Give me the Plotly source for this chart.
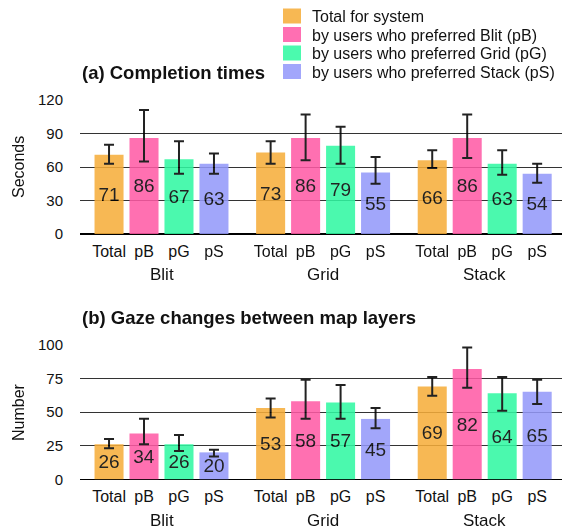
import plotly.graph_objects as go

W, H = 562, 532

groups = ["Blit", "Grid", "Stack"]
subgroups = ["Total", "pB", "pG", "pS"]
series_names = [
    "Total for system",
    "by users who preferred Blit (pB)",
    "by users who preferred Grid (pG)",
    "by users who preferred Stack (pS)",
]
colors = ["#F6AE3A", "#FF5AA6", "#30F9A2", "#9499FA"]

# (a) Completion times (seconds), per series, per group (Blit, Grid, Stack)
times_total = [71, 73, 66]
times_pB = [86, 86, 86]
times_pG = [67, 79, 63]
times_pS = [63, 55, 54]
times_err_plus = [[9, 10, 9], [25, 21, 21], [16, 17, 12], [9, 14, 9]]
times_err_minus = [[8, 10, 7], [21, 20, 18], [13, 16, 10], [9, 10, 8]]

# (b) Gaze changes between map layers (number)
gaze_total = [26, 53, 69]
gaze_pB = [34, 58, 82]
gaze_pG = [26, 57, 64]
gaze_pS = [20, 45, 65]
gaze_err_plus = [[4, 7, 7], [11, 16, 16], [7, 13, 12], [2, 8, 9]]
gaze_err_minus = [[3, 7, 7], [8, 13, 14], [5, 12, 13], [3, 7, 9]]

times = [times_total, times_pB, times_pG, times_pS]
gaze = [gaze_total, gaze_pB, gaze_pG, gaze_pS]

GROUP_STEP = 4.62
xpos = lambda g, s: g * GROUP_STEP + s

FONT = "Liberation Sans"
OPACITY = 0.87

fig = go.Figure()

for panel, (data, eplus, eminus) in enumerate([(times, times_err_plus, times_err_minus),
                                                (gaze, gaze_err_plus, gaze_err_minus)]):
    xa = "x" if panel == 0 else "x2"
    ya = "y" if panel == 0 else "y2"
    for s in range(4):
        fig.add_trace(go.Bar(
            x=[xpos(g, s) for g in range(3)],
            y=data[s],
            name=series_names[s],
            width=0.83,
            marker=dict(color=colors[s], line=dict(width=0)),
            opacity=OPACITY,
            text=[str(v) for v in data[s]],
            textposition="inside",
            insidetextanchor="middle",
            constraintext="none",
            textangle=0,
            textfont=dict(family=FONT, size=19, color="black"),
            error_y=dict(type="data", symmetric=False, array=eplus[s], arrayminus=eminus[s],
                         color="black", thickness=2, width=5),
            showlegend=False,
            xaxis=xa, yaxis=ya,
            hoverinfo="skip",
        ))

tickvals = [xpos(g, s) for g in range(3) for s in range(4)]
ticktext = [subgroups[s] for g in range(3) for s in range(4)]

xdom = [80 / W, 1.0]
ydom_a = [1 - 234 / H, 1 - 100 / H]
ydom_b = [1 - 479.3 / H, 1 - 344.7 / H]
xrange = [-0.83, 12.95]

axis_x = dict(range=xrange, tickvals=tickvals, ticktext=ticktext, showgrid=False,
              zeroline=False, showline=False, ticks="", ticklabelstandoff=6,
              tickfont=dict(family=FONT, size=16, color="#111"), fixedrange=True)
axis_y = dict(showgrid=True, gridcolor="#333", gridwidth=1, zeroline=True,
              zerolinecolor="black", zerolinewidth=1.5, ticks="",
              ticklabelstandoff=16, tickfont=dict(family=FONT, size=15, color="#111"),
              showline=False, fixedrange=True)

fig.update_layout(
    width=W, height=H,
    margin=dict(l=0, r=0, t=0, b=0, autoexpand=False),
    paper_bgcolor="white", plot_bgcolor="white",
    barmode="overlay",
    font=dict(family=FONT, color="#111"),
    xaxis=dict(domain=xdom, anchor="y", **axis_x),
    yaxis=dict(domain=ydom_a, anchor="x", range=[0, 120], tickvals=[0, 30, 60, 90, 120], **axis_y),
    xaxis2=dict(domain=xdom, anchor="y2", **axis_x),
    yaxis2=dict(domain=ydom_b, anchor="x2", range=[0, 100], tickvals=[0, 25, 50, 75, 100], **axis_y),
    showlegend=False,
)

annotations = [
    dict(text="<b>(a) Completion times</b>", x=80 / W, y=1 - 72 / H, xref="paper", yref="paper",
         xanchor="left", yanchor="middle", showarrow=False, font=dict(family=FONT, size=18.5, color="#111")),
    dict(text="<b>(b) Gaze changes between map layers</b>", x=80 / W, y=1 - 317 / H, xref="paper",
         yref="paper", xanchor="left", yanchor="middle", showarrow=False,
         font=dict(family=FONT, size=18.5, color="#111")),
    dict(text="Seconds", x=18 / W, y=(ydom_a[0] + ydom_a[1]) / 2, xref="paper", yref="paper",
         xanchor="center", yanchor="middle",
         textangle=-90, showarrow=False, font=dict(family=FONT, size=16, color="#111")),
    dict(text="Number", x=18 / W, y=(ydom_b[0] + ydom_b[1]) / 2, xref="paper", yref="paper",
         xanchor="center", yanchor="middle",
         textangle=-90, showarrow=False, font=dict(family=FONT, size=16, color="#111")),
]
for g, name in enumerate(groups):
    cx = (xpos(g, 0) + xpos(g, 3)) / 2
    annotations.append(dict(text=name, x=cx, y=1 - 274 / H, xref="x", yref="paper",
                            showarrow=False, xanchor="center", yanchor="middle",
                            font=dict(family=FONT, size=17, color="#111")))
    annotations.append(dict(text=name, x=cx, y=1 - 520 / H, xref="x2", yref="paper",
                            showarrow=False, xanchor="center", yanchor="middle",
                            font=dict(family=FONT, size=17, color="#111")))

# Legend (swatches + labels), laid out in paper coordinates
shapes = []
LEG_X0, LEG_X1, LEG_TEXT_X = 283, 301, 310
LEG_Y0, LEG_STEP, SW_H = 16, 18.5, 15
for s in range(4):
    cy = LEG_Y0 + s * LEG_STEP
    shapes.append(dict(type="rect", xref="paper", yref="paper",
                       x0=LEG_X0 / W, x1=LEG_X1 / W,
                       y0=1 - (cy + SW_H / 2) / H, y1=1 - (cy - SW_H / 2) / H,
                       fillcolor=colors[s], opacity=OPACITY, line=dict(width=0)))
    annotations.append(dict(text=series_names[s], x=LEG_TEXT_X / W, y=1 - (cy + 1) / H,
                            xref="paper", yref="paper", xanchor="left", yanchor="middle",
                            showarrow=False, font=dict(family=FONT, size=16, color="#111")))
fig.update_layout(annotations=annotations, shapes=shapes)

fig.write_html("out.html", config={"displayModeBar": False, "staticPlot": True},
               post_script="document.body.style.margin='0';")
